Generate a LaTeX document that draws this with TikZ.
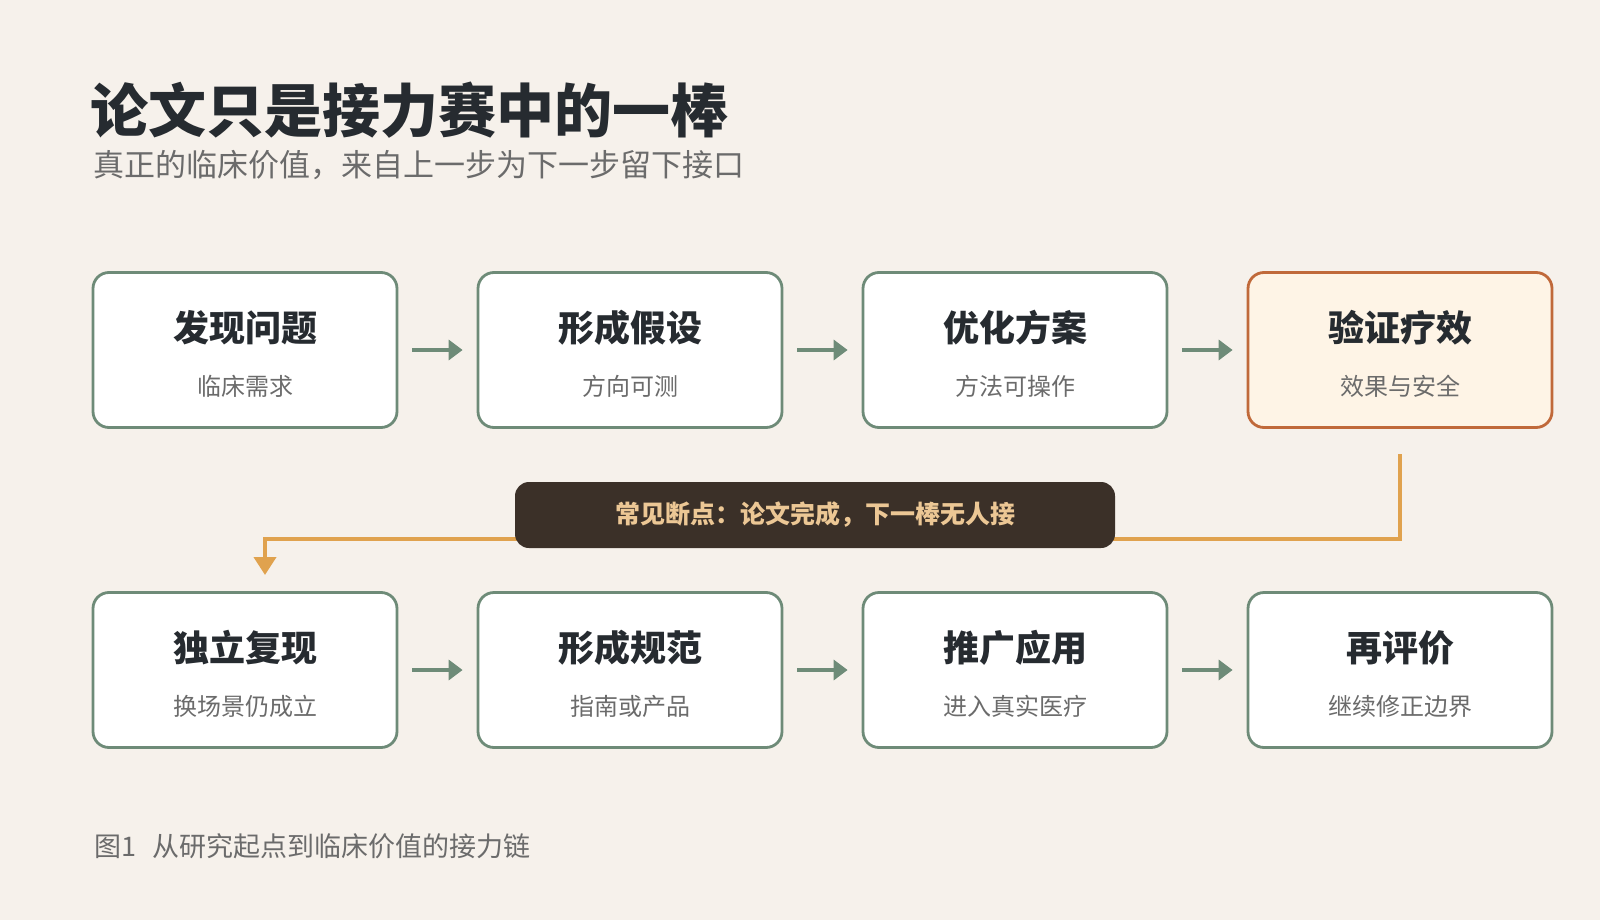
\documentclass[tikz,border=0pt]{standalone}
\usepackage{fontspec}
\setmainfont{Noto Sans CJK SC}
\usetikzlibrary{arrows.meta}
\definecolor{bg}{HTML}{F6F1EB}
\definecolor{bd}{HTML}{6E8B78}
\definecolor{hb}{HTML}{C0693A}
\definecolor{hf}{HTML}{FEF4E6}
\definecolor{og}{HTML}{E0A24E}
\definecolor{dk}{HTML}{3B3028}
\definecolor{tx}{HTML}{262B30}
\definecolor{gy}{HTML}{6B6B6B}
\begin{document}
\begin{tikzpicture}[x=1pt,y=-1pt,
 box/.style={draw=bd,line width=2.8pt,fill=white,rounded corners=16pt,minimum width=304pt,minimum height=155pt,inner sep=0},
 hbox/.style={box,draw=hb,fill=hf},
 ttl/.style={font=\bfseries\fontsize{36}{42}\selectfont,text=tx},
 sub/.style={font=\fontsize{24}{28}\selectfont,text=gy},
 arr/.style={draw=bd,line width=4.5pt,-{Triangle[length=14pt,width=20pt]}}]
\fill[bg] (0,0) rectangle (1600,920);
\useasboundingbox (0,0) rectangle (1600,920);
\node[anchor=base west,font=\bfseries\fontsize{58}{66}\selectfont,text=tx,inner sep=0] (title) at (90,133) {论文只是接力赛中的一棒};
\node[anchor=base west,font=\fontsize{31}{36}\selectfont,text=gy,inner sep=0] (subt) at (93,177) {真正的临床价值，来自上一步为下一步留下接口};
\foreach \n/\x/\y/\s/\a/\b in {a/245/350/box/发现问题/临床需求, b/630/350/box/形成假设/方向可测, c/1015/350/box/优化方案/方法可操作, d/1400/350/hbox/验证疗效/效果与安全,
 e/245/670/box/独立复现/换场景仍成立, f/630/670/box/形成规范/指南或产品, g/1015/670/box/推广应用/进入真实医疗, h/1400/670/box/再评价/继续修正边界}{
 \node[\s] (\n) at (\x,\y) {};
 \node[ttl] (\n t) at (\x,\y-22) {\a};
 \node[sub] (\n s) at (\x,\y+36) {\b};
}
\foreach \p/\q in {a/b,b/c,c/d,e/f,f/g,g/h}{\draw[arr] ([xshift=14pt]\p.east) -- ([xshift=-14pt]\q.west);}
\coordinate (o1) at (1400,454);
\coordinate (o2) at (1400,539);
\coordinate (o3) at (265,539);
\coordinate (o4) at (265,575);
\draw[og,line width=4pt,-{Triangle[length=18pt,width=22pt]}] (o1) -- (o2) -- (o3) -- (o4);
\node[fill=dk,rounded corners=14pt,minimum width=600pt,minimum height=66pt,font=\bfseries\fontsize{25}{28}\selectfont,text=og!60!white] (brk) at (815,515) {常见断点：论文完成，下一棒无人接};
\node[anchor=base west,font=\fontsize{27}{30}\selectfont,text=gy,inner sep=0] (cap) at (94,856) {图1\hspace{16pt}从研究起点到临床价值的接力链};
\end{tikzpicture}
\end{document}
